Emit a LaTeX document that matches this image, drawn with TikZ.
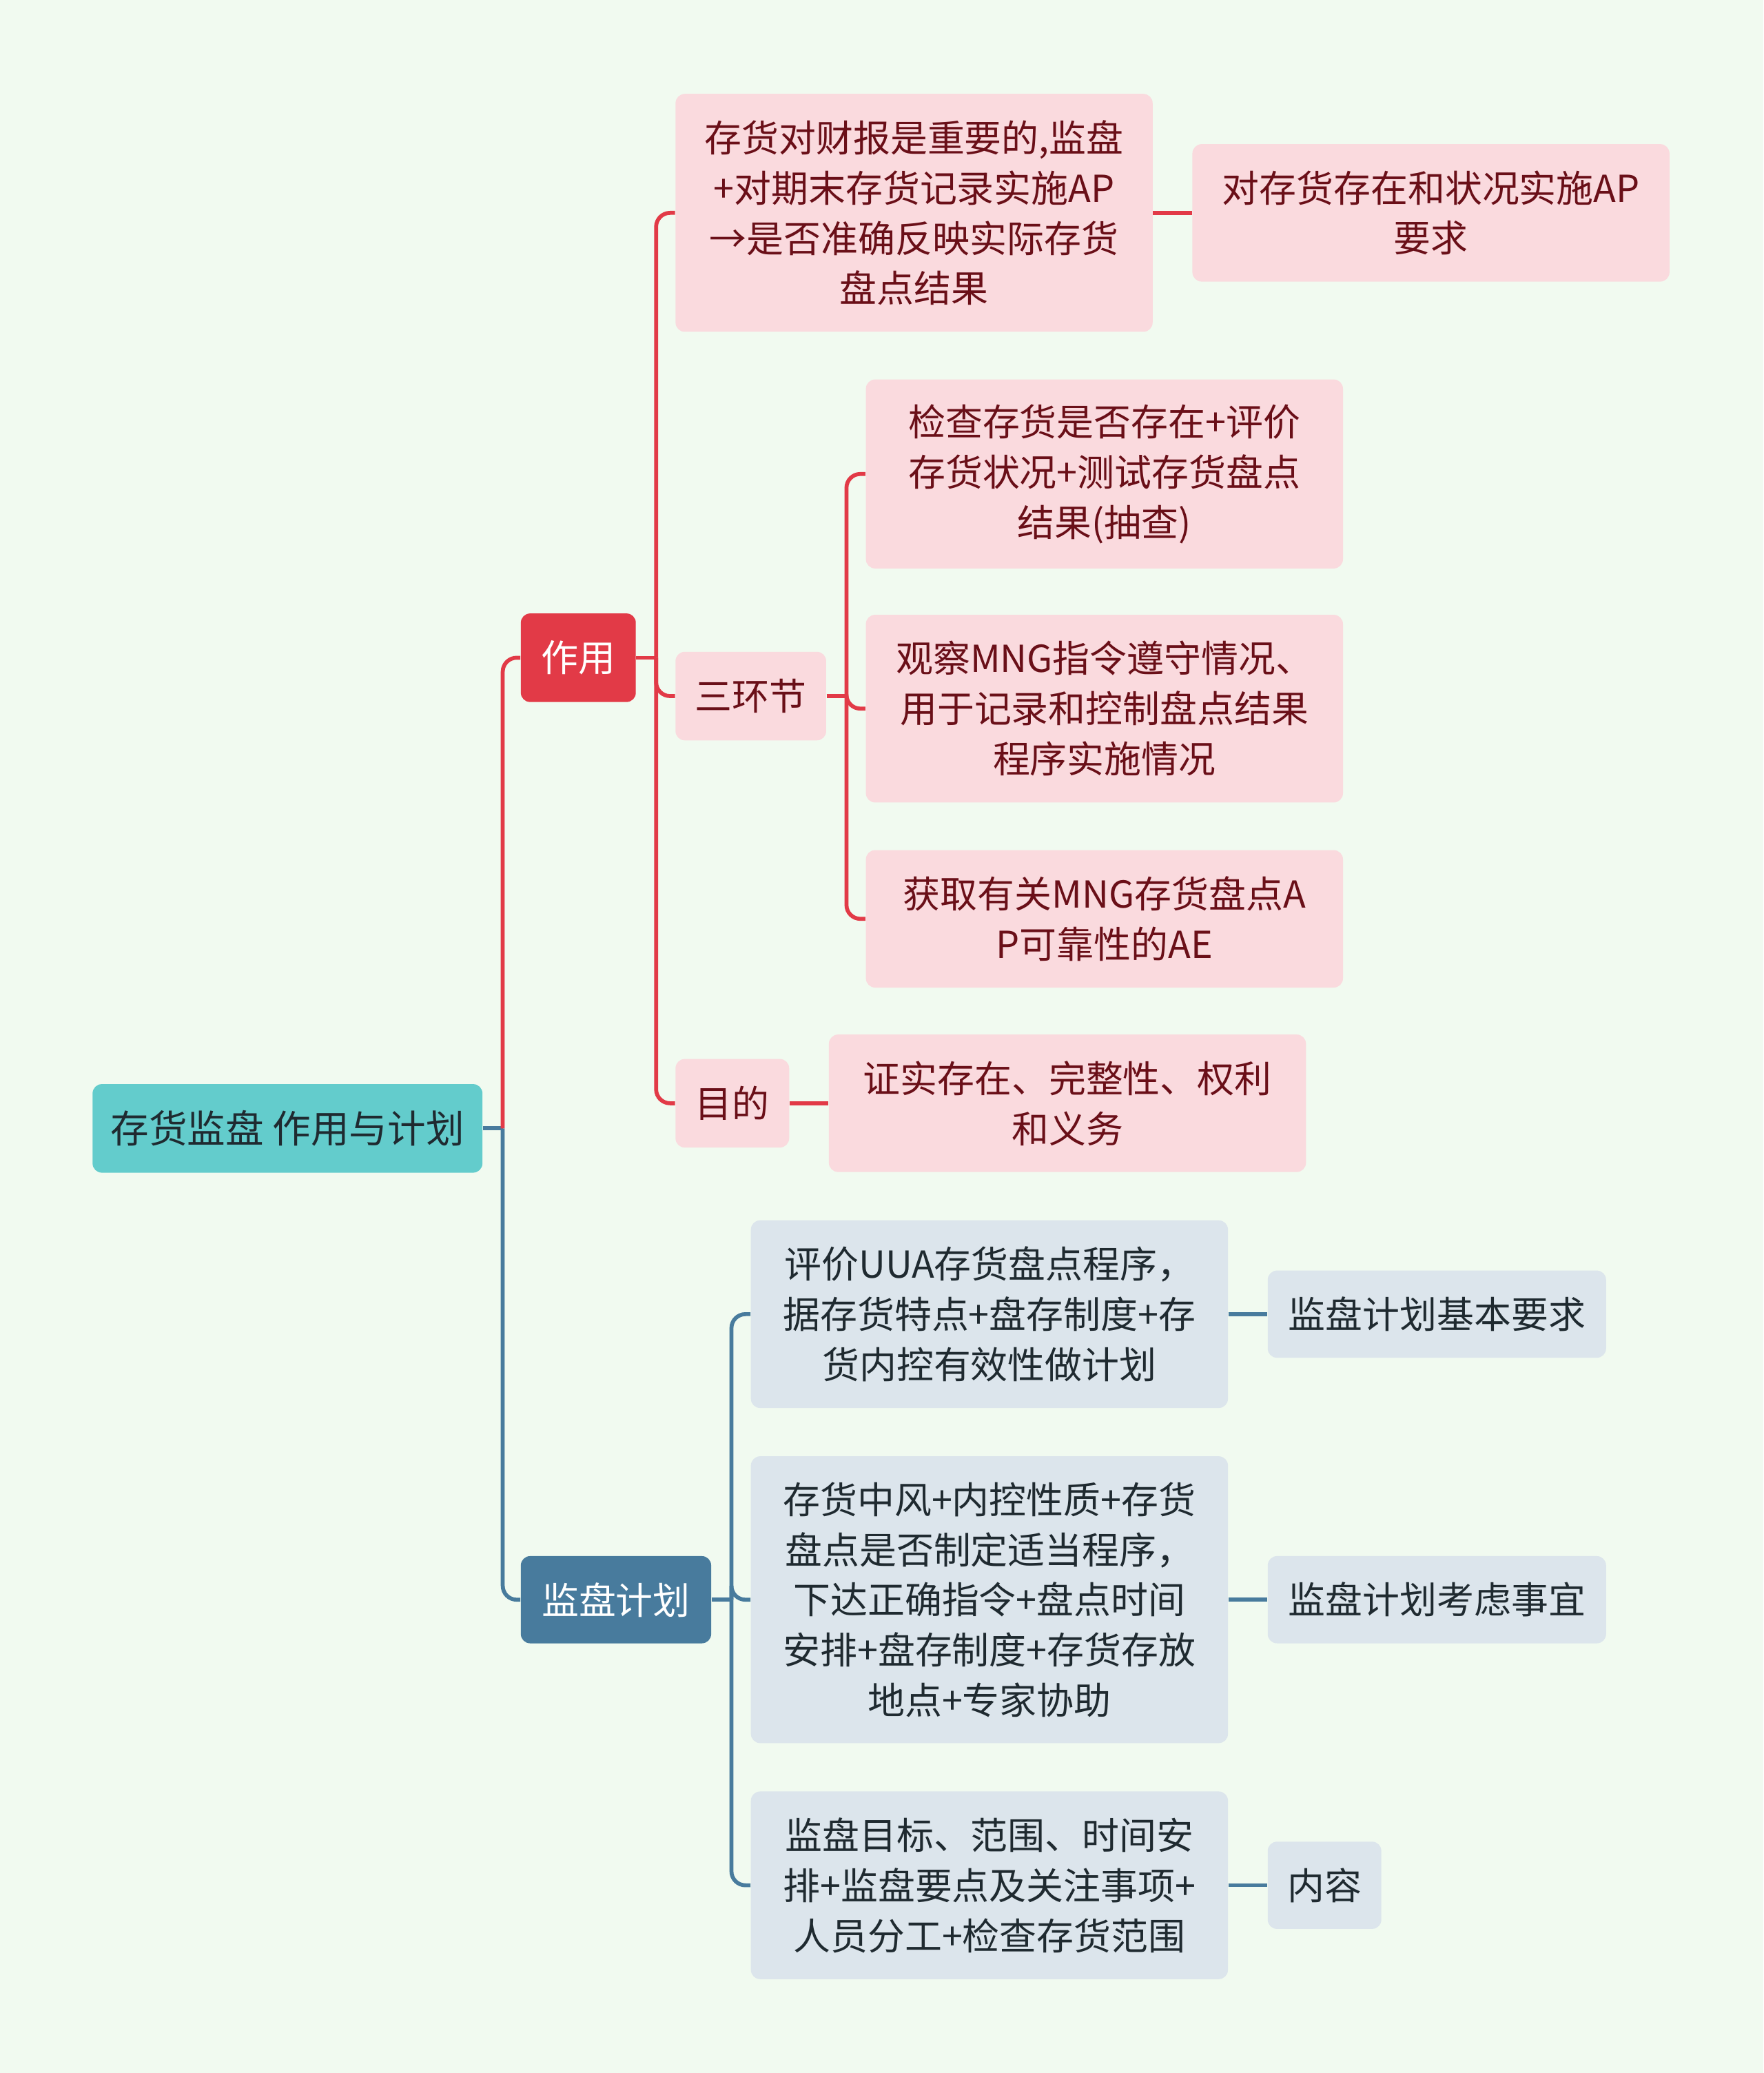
\documentclass[tikz,border=0pt]{standalone}
\usepackage{fontspec}
\setmainfont{Noto Sans CJK SC}
\usetikzlibrary{calc}
\definecolor{bgc}{HTML}{F1FAF0}
\definecolor{rootc}{HTML}{63CCCC}
\definecolor{redc}{HTML}{E23A47}
\definecolor{bluec}{HTML}{487B9D}
\definecolor{pinkc}{HTML}{FADADE}
\definecolor{pinkt}{HTML}{6A0F18}
\definecolor{greyc}{HTML}{DCE5EC}
\definecolor{greyt}{HTML}{1F2A30}

\begin{document}
\begin{tikzpicture}[x=0.02cm,y=-0.02cm,
  box/.style={rounded corners=4pt,align=center,inner sep=0pt,font=\fontsize{16}{21.6}\selectfont},
  pinkbox/.style={box,fill=pinkc,text=pinkt,minimum width=7.22cm},
  greybox/.style={box,fill=greyc,text=greyt,minimum width=7.22cm},
  redline/.style={draw=redc,line width=1.7pt,rounded corners=6pt},
  blueline/.style={draw=bluec,line width=1.7pt,rounded corners=6pt}]
  \useasboundingbox[fill=bgc] (0,0) rectangle (1334,1568);

  % root and main branches
  \node[box,fill=rootc,text=greyt,minimum width=5.9cm,minimum height=1.34cm,font=\fontsize{16.5}{22}\selectfont] (root) at (217.5,853.5) {存货监盘 作用与计划};
  \node[box,fill=redc,text=white,minimum width=1.74cm,minimum height=1.34cm] (zy) at (437.5,497.5) {作用};
  \node[box,fill=bluec,text=white,minimum width=2.88cm,minimum height=1.32cm] (jp) at (466,1210) {监盘计划};

  % 作用
  \node[pinkbox,minimum height=3.6cm] (cz) at (691.5,161) {存货对财报是重要的,监盘\\+对期末存货记录实施AP\\→是否准确反映实际存货\\盘点结果};
  \node[pinkbox,minimum height=2.08cm] (czr) at (1082.5,161) {对存货存在和状况实施AP\\要求};
  \node[pinkbox,minimum width=2.28cm,minimum height=1.34cm] (shj) at (568,526.5) {三环节};
  \node[pinkbox,minimum height=2.86cm] (hj1) at (835.5,358.5) {检查存货是否存在+评价\\存货状况+测试存货盘点\\结果(抽查)};
  \node[pinkbox,minimum height=2.84cm] (hj2) at (835.5,536) {观察MNG指令遵守情况、\\用于记录和控制盘点结果\\程序实施情况};
  \node[pinkbox,minimum height=2.08cm] (hj3) at (835.5,695) {获取有关MNG存货盘点A\\P可靠性的AE};
  \node[pinkbox,minimum width=1.72cm,minimum height=1.34cm] (md) at (554,834.5) {目的};
  \node[pinkbox,minimum height=2.08cm] (mdr) at (807.5,834.5) {证实存在、完整性、权利\\和义务};

  % 监盘计划
  \node[greybox,minimum height=2.84cm] (jh1) at (748.5,994) {评价UUA存货盘点程序，\\据存货特点+盘存制度+存\\货内控有效性做计划};
  \node[greybox,minimum height=4.34cm] (jh2) at (748.5,1210) {存货中风+内控性质+存货\\盘点是否制定适当程序，\\下达正确指令+盘点时间\\安排+盘存制度+存货存放\\地点+专家协助};
  \node[greybox,minimum height=2.84cm] (jh3) at (748.5,1426) {监盘目标、范围、时间安\\排+监盘要点及关注事项+\\人员分工+检查存货范围};
  \node[greybox,minimum width=5.12cm,minimum height=1.32cm] (jh1r) at (1087,994) {监盘计划基本要求};
  \node[greybox,minimum width=5.12cm,minimum height=1.32cm] (jh2r) at (1087,1210) {监盘计划考虑事宜};
  \node[greybox,minimum width=1.72cm,minimum height=1.32cm] (jh3r) at (1002,1426) {内容};

  % junction points
  \coordinate (rootj) at ($(root.east)+(15,0)$);
  \coordinate (zyj) at ($(zy.east)+(15,0)$);
  \coordinate (shjj) at ($(shj.east)+(15,0)$);
  \coordinate (jpj) at ($(jp.east)+(15,0)$);

  % connectors
  \draw[blueline] (root.east) -- (rootj);
  \draw[blueline] (rootj) |- (jp.west);
  \draw[redline] (rootj) |- (zy.west);
  \draw[redline] (zy.east) -- (zyj);
  \foreach \n in {cz,shj,md}{\draw[redline] (zyj) |- (\n.west);}
  \draw[redline] (shj.east) -- (shjj);
  \foreach \n in {hj1,hj2,hj3}{\draw[redline] (shjj) |- (\n.west);}
  \draw[redline] (cz.east) -- (czr.west);
  \draw[redline] (md.east) -- (mdr.west);
  \draw[blueline] (jp.east) -- (jpj);
  \foreach \n in {jh1,jh2,jh3}{\draw[blueline] (jpj) |- (\n.west);}
  \draw[blueline] (jh1.east) -- (jh1r.west);
  \draw[blueline] (jh2.east) -- (jh2r.west);
  \draw[blueline] (jh3.east) -- (jh3r.west);
\end{tikzpicture}
\end{document}
